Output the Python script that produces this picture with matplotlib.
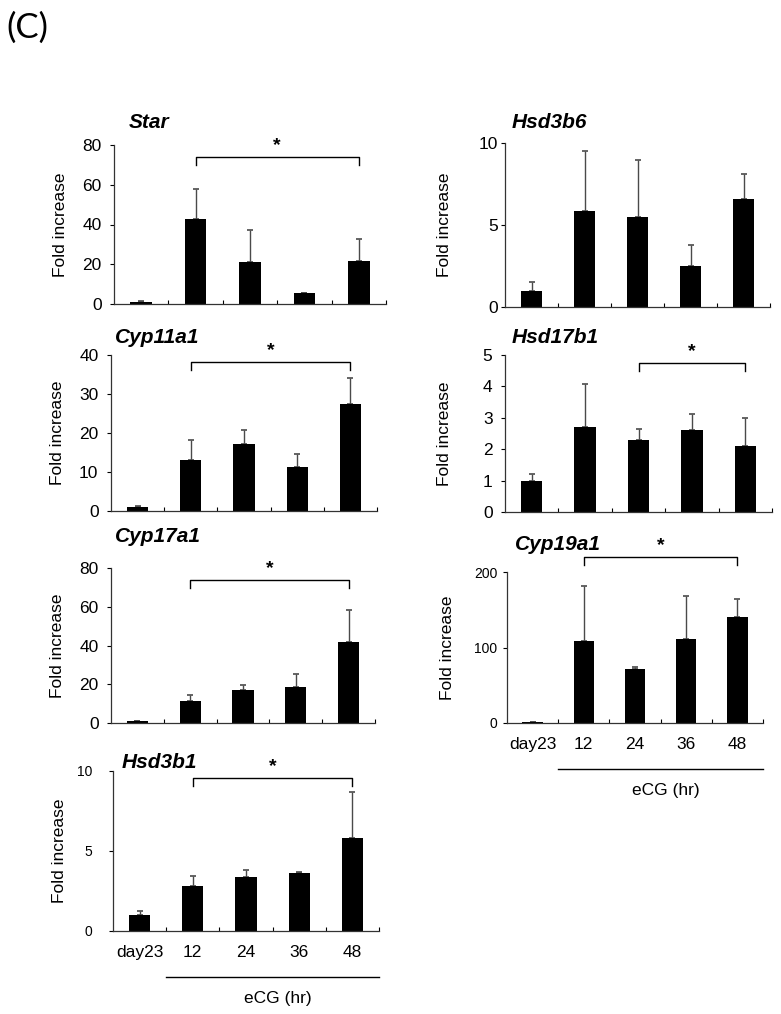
import matplotlib
matplotlib.use("Agg")
import matplotlib.pyplot as plt

W, H = 781, 1014

groups = ["day23", "12", "24", "36", "48"]

star_mean = [1.0, 43.0, 21.0, 5.3, 21.5]
star_err = [0.3, 15.0, 16.0, 0.3, 11.0]

cyp11a1_mean = [1.0, 13.0, 17.2, 11.2, 27.5]
cyp11a1_err = [0.2, 5.3, 3.6, 3.3, 6.5]

cyp17a1_mean = [0.8, 11.2, 17.0, 18.5, 41.8]
cyp17a1_err = [0.3, 3.3, 2.8, 7.0, 16.7]

hsd3b1_mean = [1.0, 2.8, 3.4, 3.6, 5.8]
hsd3b1_err = [0.25, 0.65, 0.4, 0.08, 2.9]

hsd3b6_mean = [1.0, 5.85, 5.5, 2.5, 6.6]
hsd3b6_err = [0.55, 3.65, 3.45, 1.3, 1.5]

hsd17b1_mean = [1.0, 2.72, 2.3, 2.62, 2.1]
hsd17b1_err = [0.2, 1.35, 0.35, 0.5, 0.9]

cyp19a1_mean = [1.0, 108.0, 71.0, 111.0, 141.0]
cyp19a1_err = [0.5, 74.0, 3.0, 57.0, 23.0]

# name, mean, err, yticks, significance bracket (from, to, height) or None
panels = [
    ("Star", star_mean, star_err, [0, 20, 40, 60, 80], (1, 4, 74)),
    ("Cyp11a1", cyp11a1_mean, cyp11a1_err, [0, 10, 20, 30, 40], (1, 4, 38.2)),
    ("Cyp17a1", cyp17a1_mean, cyp17a1_err, [0, 20, 40, 60, 80], (1, 4, 73.8)),
    ("Hsd3b1", hsd3b1_mean, hsd3b1_err, [0, 5, 10], (1, 4, 9.56)),
    ("Hsd3b6", hsd3b6_mean, hsd3b6_err, [0, 5, 10], None),
    ("Hsd17b1", hsd17b1_mean, hsd17b1_err, [0, 1, 2, 3, 4, 5], (2, 4, 4.75)),
    ("Cyp19a1", cyp19a1_mean, cyp19a1_err, [0, 100, 200], (1, 4, 220)),
]

# pixel layout: left, right, top, bottom, title x, title y, tick fontsize, tick pad, ylabel x, show x labels
layout = {
    "Star": (114, 386, 145, 304, 129, 123, 12.5, 6, 68, False),
    "Cyp11a1": (111, 377, 355, 511, 115, 338, 12.5, 6, 65, False),
    "Cyp17a1": (111, 375, 568, 723, 115, 537, 12.5, 6, 65, False),
    "Hsd3b1": (113, 379, 771, 931, 122, 762, 10, 12, 67, True),
    "Hsd3b6": (505, 770, 143, 307, 512, 122, 12.5, 2, 452, False),
    "Hsd17b1": (505, 772, 355, 512, 512, 338, 12.5, 6, 452, False),
    "Cyp19a1": (507, 763, 572, 723, 515, 545, 10, 4, 455, True),
}

plt.rcParams["font.family"] = ["Liberation Sans", "DejaVu Sans"]
narrow = ["Liberation Sans Narrow", "Liberation Sans", "DejaVu Sans"]

fig = plt.figure(figsize=(W / 100, H / 100), dpi=100)
fig.text(6 / W, 1 - 28 / H, "(C)", fontsize=25, family="Lato", ha="left", va="center")

for name, mean, err, yticks, bracket in panels:
    L, R, T, B, tx, ty, tfs, tpad, ylx, xlab = layout[name]
    wpx, hpx = R - L, B - T
    ax = fig.add_axes([L / W, 1 - B / H, wpx / W, hpx / H])
    x = list(range(len(groups)))
    ax.bar(x, mean, width=0.4, color="black", zorder=2)
    ax.errorbar(x, mean, yerr=[[0] * len(err), err], fmt="none",
                ecolor="#4a4a4a", elinewidth=1.0, capsize=2, capthick=1.2, zorder=1)
    ax.set_xlim(-0.5, len(groups) - 0.5)
    ax.set_ylim(yticks[0], yticks[-1])
    ax.set_yticks(yticks)
    ax.tick_params(axis="y", direction="out", length=3, width=0.8, pad=tpad)
    for lab in ax.get_yticklabels():
        lab.set_family(narrow)
        lab.set_fontsize(tfs)
    ax.set_xticks([i + 0.5 for i in range(len(groups))])
    ax.tick_params(axis="x", which="major", direction="in", length=3, width=0.8, labelbottom=False)
    for s in ["top", "right"]:
        ax.spines[s].set_visible(False)
    for s in ["left", "bottom"]:
        ax.spines[s].set_linewidth(0.9)
        ax.spines[s].set_color("#333333")
    ax.set_ylabel("Fold increase", fontsize=12.5)
    ax.yaxis.set_label_coords((ylx - L) / wpx, 0.5)

    fig.text(tx / W, 1 - ty / H, name, fontsize=15, fontweight="bold",
             fontstyle="italic", ha="left", va="center")

    if bracket is not None:
        i0, i1, yb = bracket
        ymax = yticks[-1]
        drop = 8 / hpx * ymax
        ax.plot([i0, i0, i1, i1], [yb - drop, yb, yb, yb - drop], color="black",
                lw=1.0, clip_on=False)
        ax.annotate("*", xy=((i0 + i1) / 2, yb), xytext=(0, 2), textcoords="offset points",
                    ha="center", va="bottom", fontsize=14, fontweight="bold", annotation_clip=False)

    if xlab:
        ax.set_xticks(x, groups, minor=True)
        ax.tick_params(axis="x", which="minor", length=0, labelsize=12.5, pad=10)
        trans = ax.get_xaxis_transform()
        ax.plot([0.5, len(groups) - 0.5], [-46 / hpx, -46 / hpx], color="black",
                lw=1.0, transform=trans, clip_on=False)
        ax.text(2.6, -67 / hpx, "eCG (hr)", transform=trans, fontsize=12.5,
                ha="center", va="center")

fig.savefig("out.png", dpi=100)
